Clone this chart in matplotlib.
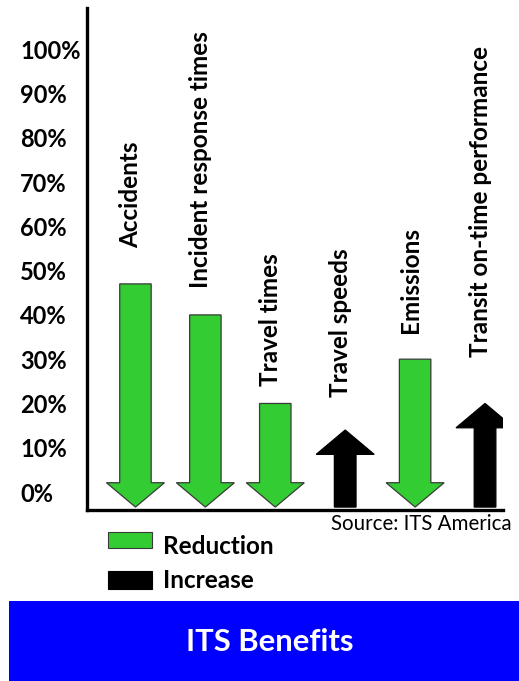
#!/usr/bin/env python3
import matplotlib
matplotlib.use("Agg")
import matplotlib.pyplot as plt
from matplotlib.patches import FancyArrow, Rectangle

# data (percent change reported by ITS America)
categories = ["Accidents", "Incident response times", "Travel times",
              "Travel speeds", "Emissions", "Transit on-time performance"]
values = [47, 40, 20, 14, 30, 20]
direction = ["down", "down", "down", "up", "down", "up"]  # down = reduction, up = increase
yticks = [0, 10, 20, 30, 40, 50, 60, 70, 80, 90, 100]
ytick_labels = [f"{v}%" for v in yticks]

GREEN = "#33cc33"
FONT = "Lato"


def main():
    fig = plt.figure(figsize=(5.19, 6.81), dpi=100)
    W, H = 519, 681
    ax = fig.add_axes([87 / W, (H - 510) / H, (503 - 87) / W, (510 - 8) / H])

    base = -3.4      # arrows extend a little below 0%
    head_len = 5.5
    head_w = 0.83
    # extra gap between arrow end and its label (percent units)
    label_pad = [8, 6, 4, 7.5, 6, 10.5]

    for i, (cat, v, d) in enumerate(zip(categories, values, direction)):
        if d == "down":
            arr = FancyArrow(i, v, 0, base - v, width=0.45, head_width=head_w,
                             head_length=head_len, length_includes_head=True,
                             facecolor=GREEN, edgecolor="#3a3a3a", linewidth=0.9)
        else:
            arr = FancyArrow(i, base, 0, v - base, width=0.31, head_width=head_w,
                             head_length=head_len, length_includes_head=True,
                             facecolor="black", edgecolor="black", linewidth=0.9)
        ax.add_patch(arr)
        ax.text(i - 0.07, v + label_pad[i], cat, rotation=90, ha="center", va="bottom",
                fontsize=17.5, fontweight="bold", family=FONT)

    ax.set_xlim(-0.693, 5.257)
    ax.set_ylim(-4.06, 109.3)
    ax.set_xticks([])
    ax.set_yticks(yticks)
    ax.set_yticklabels(ytick_labels, fontsize=17, fontweight="bold", family=FONT)
    ax.tick_params(axis="y", length=0, pad=48)
    for lab in ax.get_yticklabels():
        lab.set_ha("left")
    for s in ["top", "right"]:
        ax.spines[s].set_visible(False)
    for s in ["left", "bottom"]:
        ax.spines[s].set_linewidth(2.4)

    fig.text(512 / W, 1 - 524 / H, "Source: ITS America", ha="right", va="center",
             fontsize=14.8, family=FONT)

    # legend
    fig.patches.append(Rectangle((108 / W, 1 - 548 / H), 44 / W, 16 / H, transform=fig.transFigure,
                                 facecolor=GREEN, edgecolor="#3a3a3a", linewidth=0.8))
    fig.patches.append(Rectangle((108 / W, 1 - 589 / H), 44 / W, 18 / H, transform=fig.transFigure,
                                 facecolor="black", edgecolor="black", linewidth=0.8))
    fig.text(163 / W, 1 - 547 / H, "Reduction", ha="left", va="center",
             fontsize=17.5, fontweight="bold", family=FONT)
    fig.text(163 / W, 1 - 580 / H, "Increase", ha="left", va="center",
             fontsize=17.5, fontweight="bold", family=FONT)

    # banner
    fig.patches.append(Rectangle((9 / W, 0), 1 - 9 / W, (H - 601) / H, transform=fig.transFigure,
                                 facecolor="#0000ff", edgecolor="none"))
    fig.text(270 / W, 1 - 642 / H, "ITS Benefits", ha="center", va="center",
             fontsize=22.3, fontweight="bold", color="white", family=FONT)

    fig.savefig("out.png", dpi=100)


if __name__ == "__main__":
    main()
